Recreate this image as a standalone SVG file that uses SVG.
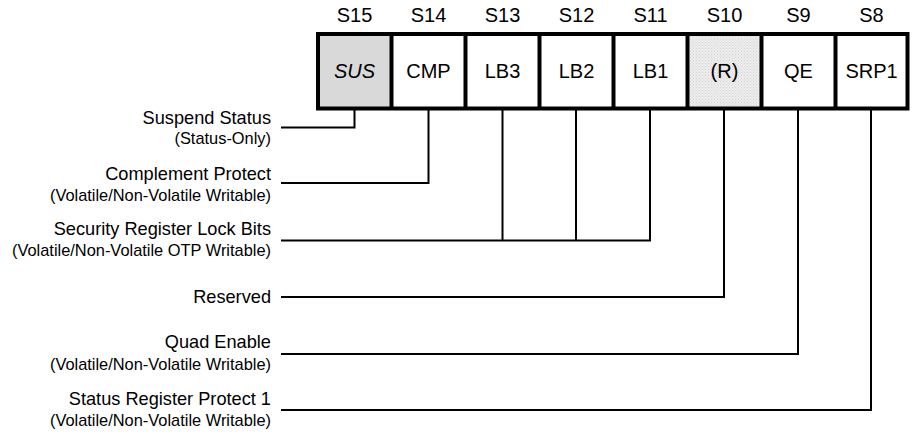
<svg xmlns="http://www.w3.org/2000/svg" width="918" height="434" viewBox="0 0 918 434">
<style>
.hdr{font-family:"Liberation Sans",Arial,sans-serif;font-size:20px;fill:#000;text-anchor:middle}
.cell{font-family:"Liberation Sans",Arial,sans-serif;font-size:20px;fill:#000;text-anchor:middle}
.lbl{font-family:"Liberation Sans",Arial,sans-serif;font-size:18.2px;fill:#000;text-anchor:end}
.sub{font-family:"Liberation Sans",Arial,sans-serif;font-size:16.4px;fill:#000;text-anchor:end}
.wire{fill:none;stroke:#000;stroke-width:2}
.border{fill:none;stroke:#000;stroke-width:4}
</style>
<defs>
<pattern id="dots" width="3" height="3" patternUnits="userSpaceOnUse">
<rect width="3" height="3" fill="#ececec"/>
<rect x="0" y="0" width="1" height="1" fill="#d6d6d6"/>
<rect x="1.5" y="1.5" width="1" height="1" fill="#dcdcdc"/>
</pattern>
</defs>
<rect width="918" height="434" fill="#fff"/>
<g id="connectors">
<polyline class="wire" points="281,127.5 354.5,127.5 354.5,110"/>
<polyline class="wire" points="281,183 428.5,183 428.5,110"/>
<polyline class="wire" points="281,240.5 650,240.5 650,110"/>
<line class="wire" x1="502.5" y1="110" x2="502.5" y2="240.5"/>
<line class="wire" x1="576" y1="110" x2="576" y2="240.5"/>
<polyline class="wire" points="281,297 724,297 724,110"/>
<polyline class="wire" points="281,354 798,354 798,110"/>
<polyline class="wire" points="281,410 871,410 871,110"/>
</g>
<g id="register">
<rect x="318" y="34" width="73.5" height="74.5" fill="#d9d9d9"/>
<rect x="687.5" y="34" width="74" height="74.5" fill="url(#dots)"/>
<rect class="border" x="318" y="34" width="589.5" height="74.5"/>
<line class="border" x1="391.5" y1="34" x2="391.5" y2="108.5"/>
<line class="border" x1="465.5" y1="34" x2="465.5" y2="108.5"/>
<line class="border" x1="539.5" y1="34" x2="539.5" y2="108.5"/>
<line class="border" x1="613.5" y1="34" x2="613.5" y2="108.5"/>
<line class="border" x1="687.5" y1="34" x2="687.5" y2="108.5"/>
<line class="border" x1="761.5" y1="34" x2="761.5" y2="108.5"/>
<line class="border" x1="835.5" y1="34" x2="835.5" y2="108.5"/>
</g>
<g id="bit-S15"><text class="hdr" x="354.5" y="22">S15</text><text class="cell" x="354.5" y="78" font-style="italic">SUS</text></g>
<g id="bit-S14"><text class="hdr" x="428.5" y="22">S14</text><text class="cell" x="428.5" y="78">CMP</text></g>
<g id="bit-S13"><text class="hdr" x="502.5" y="22">S13</text><text class="cell" x="502.5" y="78">LB3</text></g>
<g id="bit-S12"><text class="hdr" x="576.5" y="22">S12</text><text class="cell" x="576.5" y="78">LB2</text></g>
<g id="bit-S11"><text class="hdr" x="650.5" y="22">S11</text><text class="cell" x="650.5" y="78">LB1</text></g>
<g id="bit-S10"><text class="hdr" x="724.5" y="22">S10</text><text class="cell" x="724.5" y="78">(R)</text></g>
<g id="bit-S9"><text class="hdr" x="798.5" y="22">S9</text><text class="cell" x="798.5" y="78">QE</text></g>
<g id="bit-S8"><text class="hdr" x="871.5" y="22">S8</text><text class="cell" x="871.5" y="78">SRP1</text></g>
<g id="label-sus"><text class="lbl" x="271" y="124">Suspend Status</text><text class="sub" x="271" y="144">(Status-Only)</text></g>
<g id="label-cmp"><text class="lbl" x="271" y="180">Complement Protect</text><text class="sub" x="271" y="200.5">(Volatile/Non-Volatile Writable)</text></g>
<g id="label-lb"><text class="lbl" x="271" y="235">Security Register Lock Bits</text><text class="sub" x="271" y="256">(Volatile/Non-Volatile OTP Writable)</text></g>
<g id="label-r"><text class="lbl" x="271" y="302.5">Reserved</text></g>
<g id="label-qe"><text class="lbl" x="271" y="348">Quad Enable</text><text class="sub" x="271" y="370">(Volatile/Non-Volatile Writable)</text></g>
<g id="label-srp1"><text class="lbl" x="271" y="405">Status Register Protect 1</text><text class="sub" x="271" y="426">(Volatile/Non-Volatile Writable)</text></g>
</svg>
